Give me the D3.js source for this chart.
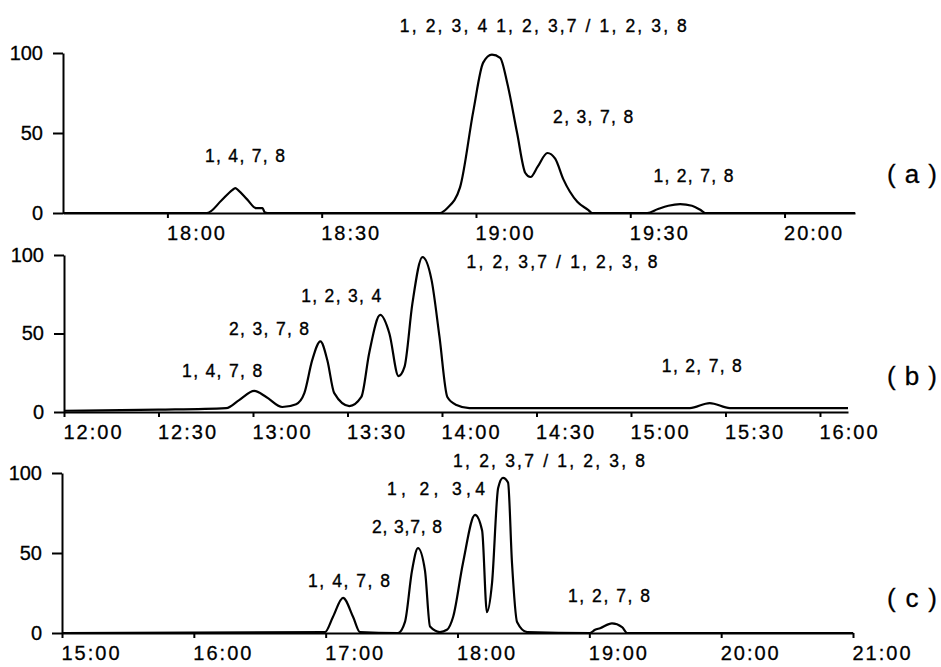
<!DOCTYPE html>
<html>
<head>
<meta charset="utf-8">
<script src="https://cdn.jsdelivr.net/npm/d3@7"></script>
<style>
  body { margin: 0; background: #fff; }
  svg { display: block; font-family: 'Liberation Sans', Arial, sans-serif; }
  .axis path, .axis line { stroke: #000; stroke-width: 2; }
  .axis text { font-size: 20px; fill: #000; stroke: #000; stroke-width: 0.3; font-family: 'Liberation Sans', Arial, sans-serif; }
  .xaxis text { letter-spacing: 2px; }
  .trace { fill: none; stroke: #000; stroke-width: 2.2; stroke-linejoin: round; }
  .peak { font-size: 17.5px; fill: #000; stroke: #000; stroke-width: 0.35; }
  .tag { font-size: 26px; fill: #000; stroke: #000; stroke-width: 0.3; }
</style>
</head>
<body>
<div class="chart"></div>
<script>
// retention time in minutes since 00:00, relative response in %
const aTime = [1059.7, 1087.7, 1090.5, 1092.6, 1093.2, 1093.8, 1095.5, 1097.3, 1098.5, 1098.9,
  1099.5, 1133.0, 1134.4, 1136.9, 1139.5, 1141.4, 1143.1, 1144.7, 1146.1, 1148.0,
  1149.6, 1150.6, 1152.0, 1153.9, 1155.4, 1157.0, 1159.7, 1161.8, 1162.6, 1173.3,
  1175.4, 1177.4, 1179.7, 1182.0, 1183.6, 1184.6, 1213.7];
const aSignal = [0, 0, 7.8, 14.3, 15.6, 14.2, 8.5, 3, 3, 0.5,
  0, 0, 3, 16, 64, 94, 99, 97, 81, 50,
  25, 22.5, 29, 37.5, 34, 21, 7, 2, 0, 0,
  2.5, 4.5, 5.5, 4.5, 2, 0, 0];

const bTime = [720, 750, 771.5, 775.6, 780.4, 784.2, 789.3, 793.7, 796.3, 798.8,
  801.4, 803.6, 805.8, 810.6, 814.4, 816.9, 820.4, 823.3, 826.2, 828.1,
  830.6, 833.8, 836.7, 839.2, 841.7, 844.6, 848.7, 918.7, 925, 931.4, 968.9];
const bSignal = [0.8, 1.5, 2.5, 7.6, 13.4, 9.6, 3.2, 5, 12, 33,
  45, 33, 12, 3.8, 9.6, 37.6, 61.8, 50, 22.9, 28.7,
  69, 98.7, 84, 48, 9.6, 4.5, 2.5, 2.5, 5.7, 2.5, 2.5];

const cTime = [900, 1019.7, 1023.3, 1027.9, 1032.5, 1035.6, 1052.9, 1056.1, 1059.3, 1062,
  1065.2, 1067.5, 1072, 1075.2, 1078, 1082.5, 1088, 1091.2, 1093.4, 1095.7,
  1098.5, 1100.7, 1103, 1104.8, 1107.1, 1111.7, 1140.3, 1142.6, 1144.9, 1150.3,
  1154.9, 1157.2, 1260];
const cSignal = [0, 0.6, 10, 22, 10, 0.6, 0, 7, 39, 53,
  39, 4, 0.6, 2, 10, 43.8, 73.8, 64, 13, 31,
  90.6, 97, 94, 43.8, 6.9, 0.6, 0, 2, 3, 6,
  3.7, 0, 0];

const yTicks = [0, 50, 100];
const aTicks = ['18:00', '18:30', '19:00', '19:30', '20:00'];
const bTicks = ['12:00', '12:30', '13:00', '13:30', '14:00', '14:30', '15:00', '15:30', '16:00'];
const cTicks = ['15:00', '16:00', '17:00', '18:00', '19:00', '20:00', '21:00'];

const aPeaks = ['1, 2, 3, 4 1, 2, 3,7 / 1, 2, 3, 8', '2, 3, 7, 8', '1, 4, 7, 8', '1, 2, 7, 8'];
const bPeaks = ['1, 2, 3,7 / 1, 2, 3, 8', '1, 2, 3, 4', '2, 3, 7, 8', '1, 4, 7, 8', '1, 2, 7, 8'];
const cPeaks = ['1, 2, 3,7 / 1, 2, 3, 8', '1, 2, 3,4', '2, 3,7, 8', '1, 4, 7, 8', '1, 2, 7, 8'];
const tags = ['(a)', '(b)', '(c)'];

const toMin = (s) => +s.slice(0, 2) * 60 + +s.slice(3, 5);

const w = 941;
const h = 667;

// panel layout: domain/range + label anchors [time, value, width]
const panels = [
  { time: aTime, signal: aSignal, ticks: aTicks, peaks: aPeaks, tag: tags[0],
    domain: [1059.7, 1213.7], xr: [63, 855], yr: [213, 53], tagV: 19,
    anchors: [[1125.2, 113, 287], [1155, 56, 80], [1087.3, 32, 80], [1174.5, 19.4, 80]] },
  { time: bTime, signal: bSignal, ticks: bTicks, peaks: bPeaks, tag: tags[1],
    domain: [720, 968.9], xr: [64, 848], yr: [412, 255], tagV: 17,
    anchors: [[847.8, 91.7, 191], [795.3, 70, 80], [772.4, 49, 80], [757.5, 22.3, 80], [909.8, 25.5, 80]] },
  { time: cTime, signal: cSignal, ticks: cTicks, peaks: cPeaks, tag: tags[2],
    domain: [900, 1260], xr: [62, 853], yr: [633, 473], tagV: 16,
    anchors: [[1078, 103.8, 192], [1047.9, 86, 98], [1041.1, 62.5, 70], [1012, 28.8, 82], [1130.3, 19.4, 82]] }
];

const svg = d3
  .select('.chart')
  .append('svg')
  .attr('width', w)
  .attr('height', h);

svg.append('rect').attr('width', w).attr('height', h).attr('fill', '#fff');

panels.forEach((p) => {
  const xScale = d3.scaleLinear().domain(p.domain).range(p.xr);
  const yScale = d3.scaleLinear().domain([0, 100]).range(p.yr);

  // Y-axis
  const yAxis = d3
    .axisLeft(yScale)
    .tickValues(yTicks)
    .tickSize(10)
    .tickSizeOuter(0)
    .tickPadding(10);

  const gy = svg
    .append('g')
    .attr('class', 'axis')
    .attr('transform', `translate(${p.xr[0]}, 0)`)
    .call(yAxis);
  gy.selectAll('text').attr('dy', '0.3em');

  // X-axis
  const xAxis = d3
    .axisBottom(xScale)
    .tickValues(p.ticks.map(toMin))
    .tickFormat((d, i) => p.ticks[i])
    .tickSize(5)
    .tickSizeOuter(0);

  const gx = svg
    .append('g')
    .attr('class', 'axis xaxis')
    .attr('transform', `translate(0, ${p.yr[0]})`)
    .call(xAxis);
  gx.selectAll('text')
    .attr('text-anchor', 'start')
    .attr('x', -1)
    .attr('y', 27)
    .attr('dy', 0);

  // trace
  const line = d3
    .line()
    .x((d, i) => xScale(p.time[i]))
    .y((d) => yScale(d))
    .curve(d3.curveMonotoneX);

  svg.append('path').attr('class', 'trace').attr('d', line(p.signal));

  // peak labels
  svg
    .selectAll(null)
    .data(p.peaks)
    .enter()
    .append('text')
    .attr('class', 'peak')
    .attr('x', (d, i) => xScale(p.anchors[i][0]))
    .attr('y', (d, i) => yScale(p.anchors[i][1]))
    .attr('textLength', (d, i) => p.anchors[i][2])
    .attr('lengthAdjust', 'spacing')
    .text((d) => d);

  svg
    .append('text')
    .attr('class', 'tag')
    .attr('x', 887)
    .attr('y', yScale(p.tagV))
    .attr('textLength', 50)
    .attr('lengthAdjust', 'spacing')
    .text(p.tag);
});
</script>
</body>
</html>
